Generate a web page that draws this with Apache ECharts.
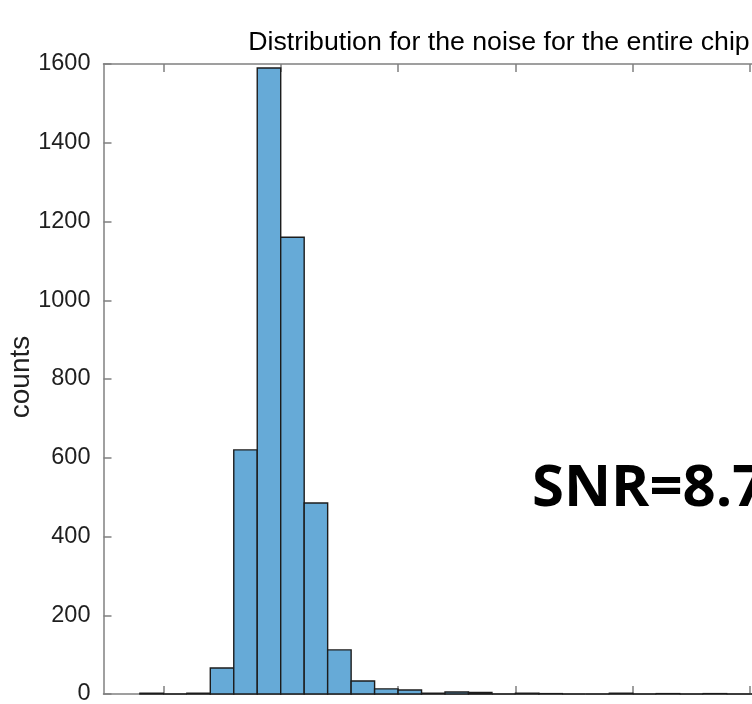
<!DOCTYPE html>
<html>
<head>
<meta charset="utf-8">
<script src="https://cdn.jsdelivr.net/npm/echarts@6/dist/echarts.min.js"></script>
<style>
html,body{margin:0;padding:0;background:#fff;}
#chart{width:752px;height:704px;}
</style>
</head>
<body>
<div id="chart"></div>
<script>
// Histogram bin edges (in bin units) and counts
const binEdges = [-1,0,1,2,3,4,5,6,7,8,9,10,11,12,13,14,15,16,17,18,19,20,21,22,23,24,25,26];
const counts   = [2,0,2,66,620,1590,1160,485,112,33,13,10,2,5,4,0,2,1,0,0,2,0,1,0,1,0,0];
const xTicks   = [0,5,10,15,20,25,30];
const yTicks   = [0,200,400,600,800,1000,1200,1400,1600];
const titleText = 'Distribution for the noise for the entire chip';
const yName = 'counts';
const annotation = 'SNR=8.7';

const xMin = -2.55, xMax = 31.15;
const bins = [];
for (let i = 0; i < counts.length; i++) bins.push([binEdges[i], binEdges[i+1], counts[i]]);

const axisColor = '#808080';
const textColor = '#1f1f1f';
const font = 'Liberation Sans, Arial, Helvetica, sans-serif';

const chart = echarts.init(document.getElementById('chart'), null, {renderer:'canvas'});
chart.setOption({
  animation: false,
  backgroundColor: '#fff',
  grid: {left: 103.5, width: 791, top: 64, bottom: 10, containLabel: false, outerBoundsMode: 'none'},
  xAxis: [{
    type: 'value', position: 'bottom', min: xMin, max: xMax,
    axisLine: {show: true, onZero: false, lineStyle: {color: axisColor, width: 1.5}},
    axisTick: {show: true, inside: true, length: 8, customValues: xTicks, lineStyle: {color: axisColor, width: 1.5}},
    axisLabel: {show: false},
    splitLine: {show: false}
  }, {
    type: 'value', position: 'top', min: xMin, max: xMax,
    axisLine: {show: true, onZero: false, lineStyle: {color: axisColor, width: 1.5}},
    axisTick: {show: true, inside: true, length: 8, customValues: xTicks, lineStyle: {color: axisColor, width: 1.5}},
    axisLabel: {show: false},
    splitLine: {show: false}
  }],
  yAxis: [{
    type: 'value', min: yTicks[0], max: yTicks[yTicks.length-1], interval: 200,
    axisLine: {show: true, onZero: false, lineStyle: {color: axisColor, width: 1.5}},
    axisTick: {show: true, inside: true, length: 8, lineStyle: {color: axisColor, width: 1.5}},
    axisLabel: {show: true, margin: 13, color: textColor, fontSize: 23.5, fontFamily: font,
      formatter: function (v) { return String(v); }},
    splitLine: {show: false}
  }],
  series: [{
    type: 'custom',
    xAxisIndex: 0, yAxisIndex: 0,
    data: bins,
    renderItem: function (params, api) {
      const p0 = api.coord([api.value(0), api.value(2)]);
      const p1 = api.coord([api.value(1), 0]);
      return {
        type: 'rect',
        shape: {x: p0[0], y: p0[1], width: p1[0] - p0[0], height: p1[1] - p0[1]},
        style: {fill: '#66AAD7', stroke: '#1c1c1c', lineWidth: 1.4}
      };
    }
  }],
  graphic: [{
    type: 'text', x: 499, y: 43,
    style: {text: titleText, align: 'center', verticalAlign: 'middle',
      font: '26.7px ' + font, fill: '#000'}
  }, {
    type: 'text', x: 21, y: 377, rotation: Math.PI / 2,
    style: {text: yName, align: 'center', verticalAlign: 'middle',
      font: '28px ' + font, fill: textColor}
  }, {
    type: 'text', x: 532, y: 489,
    style: {text: annotation, align: 'left', verticalAlign: 'middle',
      font: 'bold 58px "Open Sans", "Noto Sans", sans-serif', fill: '#000'}
  }]
});
</script>
</body>
</html>
